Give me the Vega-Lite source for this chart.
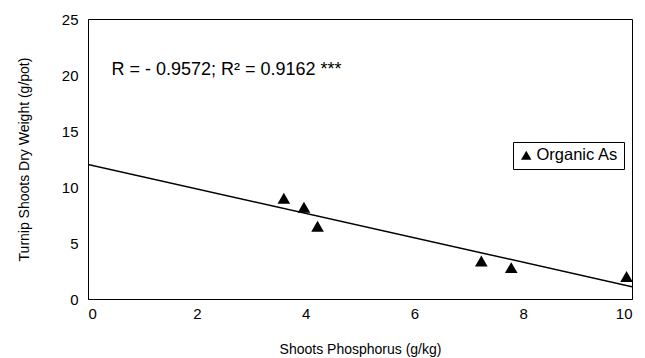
{
  "$schema": "https://vega.github.io/schema/vega-lite/v6.json",
  "width": 544,
  "height": 280,
  "autosize": {"type": "none"},
  "padding": {"left": 88, "top": 19, "right": 13, "bottom": 59},
  "background": "white",
  "config": {
    "font": "Liberation Sans",
    "view": {"stroke": "black", "strokeWidth": 1},
    "axis": {
      "grid": false,
      "ticks": false,
      "domainColor": "black",
      "labelColor": "black",
      "titleColor": "black",
      "labelFontSize": 15,
      "titleFontSize": 14,
      "titleFontWeight": "normal",
      "labelFont": "Liberation Sans",
      "titleFont": "Liberation Sans"
    }
  },
  "datasets": {
    "pts": [
      {"p": 3.6, "w": 9.0, "series": "Organic As"},
      {"p": 3.97, "w": 8.2, "series": "Organic As"},
      {"p": 4.22, "w": 6.5, "series": "Organic As"},
      {"p": 7.23, "w": 3.4, "series": "Organic As"},
      {"p": 7.78, "w": 2.8, "series": "Organic As"},
      {"p": 9.9, "w": 2.0, "series": "Organic As"}
    ],
    "fit": [
      {"p": 0, "w": 12.0},
      {"p": 10, "w": 1.1}
    ],
    "note": [
      {"p": 0.43, "w": 20.0, "label": "R = - 0.9572; R² = 0.9162 ***"}
    ]
  },
  "layer": [
    {
      "data": {"name": "fit"},
      "mark": {"type": "line", "color": "black", "strokeWidth": 1.5, "clip": true},
      "encoding": {
        "x": {"field": "p", "type": "quantitative", "scale": {"domain": [0, 10], "nice": false},
              "axis": {"values": [0, 2, 4, 6, 8, 10], "title": "Shoots Phosphorus (g/kg)", "labelPadding": 7, "titlePadding": 21}},
        "y": {"field": "w", "type": "quantitative", "scale": {"domain": [0, 25], "nice": false},
              "axis": {"values": [0, 5, 10, 15, 20, 25], "title": "Turnip Shoots Dry Weight (g/pot)", "labelPadding": 10, "titlePadding": 30}}
      }
    },
    {
      "data": {"name": "pts"},
      "mark": {"type": "point", "filled": true, "size": 160, "opacity": 1, "color": "black"},
      "encoding": {
        "x": {"field": "p", "type": "quantitative"},
        "y": {"field": "w", "type": "quantitative"},
        "shape": {"field": "series", "type": "nominal", "scale": {"range": ["triangle-up"]},
                  "legend": {"title": null, "orient": "none", "legendX": 425, "legendY": 123, "strokeColor": "black", "fillColor": "white", "padding": 5, "labelFontSize": 16.5, "labelFont": "Liberation Sans", "labelColor": "black", "symbolSize": 110, "symbolFillColor": "black", "symbolStrokeColor": "black", "symbolStrokeWidth": 0, "labelOffset": 2}}
      }
    },
    {
      "data": {"name": "note"},
      "mark": {"type": "text", "align": "left", "baseline": "alphabetic", "fontSize": 18, "color": "black", "font": "Liberation Sans"},
      "encoding": {
        "x": {"field": "p", "type": "quantitative"},
        "y": {"field": "w", "type": "quantitative"},
        "text": {"field": "label"}
      }
    }
  ]
}
